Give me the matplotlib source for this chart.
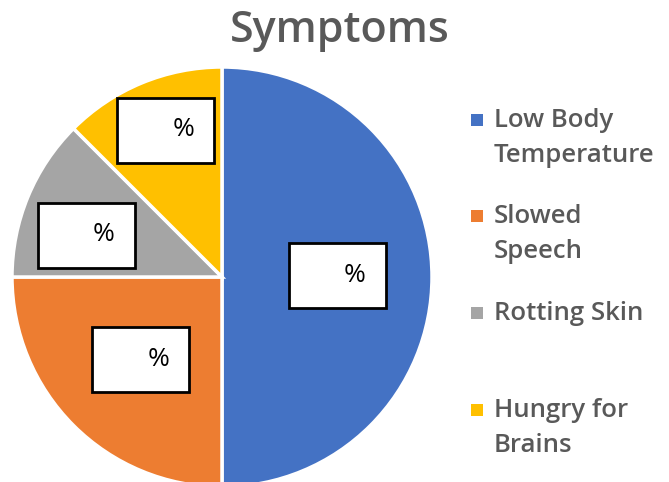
import matplotlib
matplotlib.use("Agg")
import matplotlib.pyplot as plt
from matplotlib.patches import Rectangle

categories = ["Low Body\nTemperature", "Slowed\nSpeech", "Rotting Skin", "Hungry for\nBrains"]
values = [50, 25, 12.5, 12.5]
colors = ["#4472C4", "#ED7D31", "#A5A5A5", "#FFC000"]
box_labels = ["%", "%", "%", "%"]

W, H = 669, 482
fig = plt.figure(figsize=(W / 100, H / 100), dpi=100)
fig.patch.set_facecolor("white")

# pie geometry in pixels
cx, cy, R = 222, 277, 210
ax = fig.add_axes([0, 0, 1, 1])

wedges, _ = ax.pie(values, colors=colors, startangle=90, counterclock=False,
                   radius=1.0, wedgeprops=dict(edgecolor="white", linewidth=2.5))
ax.set_xlim(-cx / R, (W - cx) / R)
ax.set_ylim(-(H - cy) / R, cy / R)
ax.set_aspect("equal")
ax.axis("off")

# label boxes (pixel offsets of box centres from pie centre)
box_offsets = [(115, 2), (-81, -82), (-136, 42), (-56, 147)]
bw, bh = 97 / R, 65 / R
for (dx, dy), lab in zip(box_offsets, box_labels):
    x0 = dx / R - bw / 2
    y0 = dy / R - bh / 2
    ax.add_patch(Rectangle((x0, y0), bw, bh, facecolor="white", edgecolor="black",
                           linewidth=2, zorder=5))
    ax.text(x0 + bw * 0.68, dy / R, lab, ha="center", va="center", fontsize=19,
            family="Open Sans", color="black", zorder=6)

fig.text(340 / W, 1 - 31 / H, "Symptoms", ha="center", va="center", fontsize=31,
         family="Open Sans", fontweight="semibold", color="#595959")

# legend
leg_y = [138, 234, 313, 428]
for lab, col, y in zip(categories, colors, leg_y):
    nlines = lab.count("\n") + 1
    top_y = y - (nlines - 1) * 18
    fig.patches.append(Rectangle(((471) / W, 1 - (top_y + 6) / H), 12 / W, 12 / H,
                                 transform=fig.transFigure, facecolor=col, edgecolor="none"))
    fig.text(494 / W, 1 - y / H, lab, ha="left", va="center", fontsize=18.5,
             family="Open Sans", fontweight="semibold", color="#595959", linespacing=1.5)

fig.savefig("out.png", dpi=100, facecolor="white")
